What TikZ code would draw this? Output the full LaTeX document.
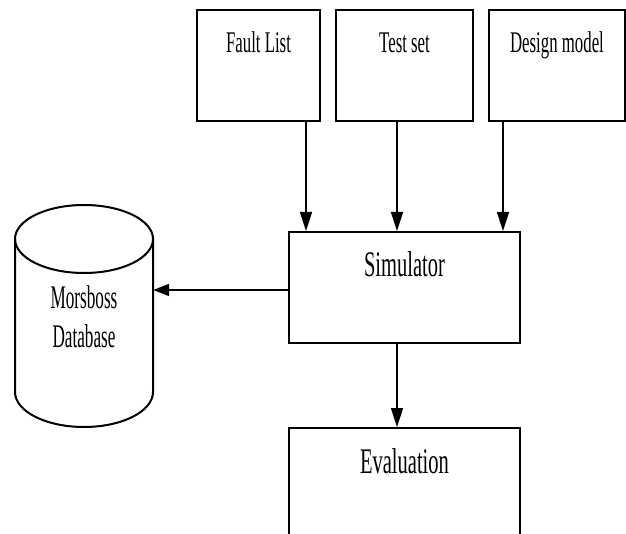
\documentclass[tikz,border=0pt]{standalone}
\usepackage{fontspec}
\setmainfont{Liberation Serif}
\usepackage{graphicx}
\usetikzlibrary{arrows.meta}
\newcommand{\cnd}[2]{\scalebox{#1}[1]{#2}}
\begin{document}
\begin{tikzpicture}[x=1pt,y=1pt,
  topbox/.style={draw, line width=2pt, inner sep=0pt, text height=43pt, text depth=68pt, font=\fontsize{30}{36}\selectfont},
  midbox/.style={draw, line width=2pt, inner sep=0pt, text height=45pt, text depth=66pt, font=\fontsize{36}{42}\selectfont},
  arr/.style={line width=1.6pt, -{Triangle[length=19pt,width=12pt]}},
  harr/.style={line width=1.6pt, -{Triangle[length=16pt,width=12pt]}},
  cyl/.style={line width=2pt}]
\useasboundingbox (0,0) rectangle (626,533);
\fill[white] (0,0) rectangle (626,533);
% boxes
\node[topbox, minimum width=123pt] (fl) at (258.5,467.5) {\cnd{0.56}{Fault List}};
\node[topbox, minimum width=137pt] (ts) at (404.5,467.5) {\cnd{0.56}{Test set}};
\node[topbox, minimum width=136pt] (dm) at (557,467.5) {\cnd{0.56}{Design model}};
\node[midbox, minimum width=231pt] (sim) at (404.5,245.5) {\cnd{0.57}{Simulator}};
\node[midbox, minimum width=231pt] (ev) at (404.5,49.5) {\cnd{0.57}{Evaluation}};
% database cylinder
\draw[cyl] (84,294) ellipse [x radius=69, y radius=34];
\draw[cyl] (15,294) -- (15,141) arc[start angle=180, end angle=360, x radius=69, y radius=35] -- (153,294);
\node[inner sep=0pt, minimum width=138pt, align=center, font=\fontsize{33}{39}\selectfont] (db) at (84,216.75) {\cnd{0.52}{Morsboss}\\\cnd{0.52}{Database}};
% connector anchors
\coordinate (a1) at ([xshift=-15pt]fl.south east);
\coordinate (a2) at ([xshift=-7.5pt]ts.south);
\coordinate (a3) at ([xshift=15pt]dm.south west);
\coordinate (a4) at ([xshift=-7.5pt]sim.south);
\coordinate (a5) at ([yshift=-2.5pt]sim.west);
% connectors
\draw[arr] (a1) -- (a1 |- sim.north);
\draw[arr] (a2) -- (a2 |- sim.north);
\draw[arr] (a3) -- (a3 |- sim.north);
\draw[arr] (a4) -- (a4 |- ev.north);
\draw[harr] (a5) -- (db.east |- a5);
\end{tikzpicture}
\end{document}
